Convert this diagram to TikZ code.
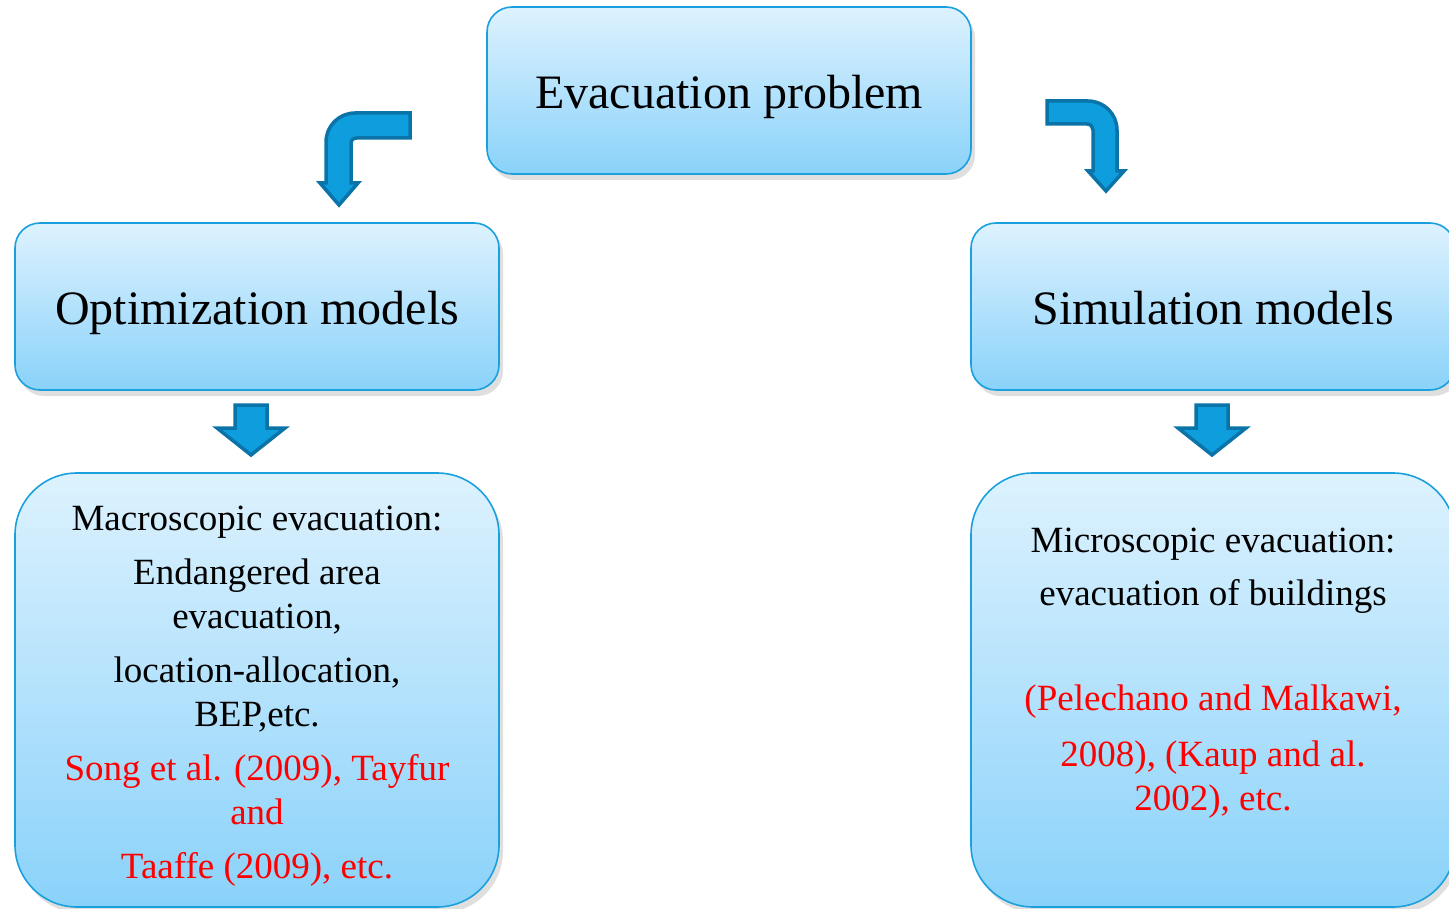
\documentclass[tikz,border=0pt]{standalone}
\usepackage{fontspec}
\setmainfont{Liberation Serif}
\usepackage{xcolor}
\usepackage{tikz}
\usetikzlibrary{shadows, positioning}

\definecolor{boxtop}{HTML}{DDF2FE}
\definecolor{boxbot}{HTML}{8AD2FA}
\definecolor{boxline}{HTML}{1AA0DD}
\definecolor{arrowfill}{HTML}{0E9EDE}
\definecolor{arrowline}{HTML}{0A73A8}
\definecolor{citered}{HTML}{FF0000}

\tikzstyle{panel} = [rectangle, draw=boxline, line width=1.6pt, top color=boxtop, bottom color=boxbot,
    drop shadow={shadow xshift=4pt, shadow yshift=-6pt, opacity=0.25}]
\tikzstyle{headbox} = [panel, rounded corners=25pt, minimum width=484pt, minimum height=167pt,
    font=\fontsize{48}{58}\selectfont, text height=47pt, text depth=10pt]
\tikzstyle{bodybox} = [panel, rounded corners=62pt, minimum width=484pt, minimum height=434pt]
\tikzstyle{bodytext} = [anchor=north, inner sep=0pt, align=center, font=\fontsize{37}{44}\selectfont]
\tikzstyle{blockarrow} = [draw=arrowline, fill=arrowfill, line width=3.5pt, line join=miter]

\begin{document}
\begin{tikzpicture}[x=1pt, y=-1pt]
    \useasboundingbox (0,0) rectangle (1449,909);
    \clip (0,0) rectangle (1449,909);

    % Boxes
    \node[headbox] (evac) at (729,90.5) {Evacuation problem};
    \node[headbox] (optim) at (257,306.5) {Optimization models};
    \node[headbox] (simul) at (1213,306.5) {Simulation models};
    \node[bodybox] (macro) at (257,690) {};
    \node[bodybox] (micro) at (1213,690) {};

    % Texts
    \node[bodytext] (macrotext) at (257,506) {Macroscopic evacuation:\\[10pt]
        Endangered area\\ evacuation,\\[10pt]
        location-allocation,\\ BEP,etc.\\[10pt]
        \color{citered}Song et al. (2009), Tayfur\\ \color{citered}and\\[10pt]
        \color{citered}Taaffe (2009), etc.};
    \node[bodytext] (microtext) at (1213,528) {Microscopic evacuation:\\[9pt]
        evacuation of buildings\\[61pt]
        \color{citered}(Pelechano and Malkawi,\\[12pt]
        \color{citered}2008), (Kaup and al.\\ \color{citered}2002), etc.};

    % Arrows
    \draw[blockarrow] (410,113) -- (355,113) .. controls (339,113) and (326,126) .. (326,142)
        -- (326,183) -- (320,183) -- (339,205) -- (358,183) -- (351,183) -- (351,144)
        .. controls (351,140) and (353,138) .. (357,138) -- (410,138) -- cycle;
    \draw[blockarrow] (1047,101) -- (1088,101) .. controls (1104,101) and (1117,114) .. (1117,130)
        -- (1117,171) -- (1124,171) -- (1106,191) -- (1088,171) -- (1093,171) -- (1093,130)
        .. controls (1093,127) and (1091,124) .. (1087,124) -- (1047,124) -- cycle;
    \foreach \x in {251,1212}
        \draw[blockarrow, xshift=\x pt] (-16,405) -- (16,405) -- (16,428) -- (34,428)
            -- (0,455) -- (-34,428) -- (-16,428) -- cycle;
\end{tikzpicture}
\end{document}
